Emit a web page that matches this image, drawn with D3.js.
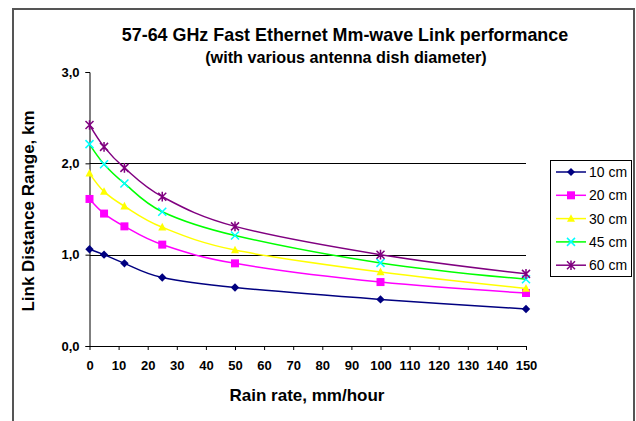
<!DOCTYPE html>
<html><head><meta charset="utf-8">
<script src="https://cdn.jsdelivr.net/npm/d3@7"></script>
<style>
html,body{margin:0;padding:0;background:#fff;}
text{font-family:"Liberation Sans",Arial,sans-serif;}
</style></head>
<body>
<svg id="chart" width="636" height="421"></svg>
<script>
const rainRate = [0, 5, 12, 25, 50, 100, 150];
const seriesNames = ["10 cm", "20 cm", "30 cm", "45 cm", "60 cm"];
const d10 = [1.06, 1.00, 0.905, 0.75, 0.64, 0.51, 0.405];
const d20 = [1.61, 1.45, 1.31, 1.11, 0.905, 0.70, 0.58];
const d30 = [1.89, 1.69, 1.53, 1.30, 1.05, 0.81, 0.63];
const d45 = [2.21, 1.99, 1.78, 1.47, 1.21, 0.91, 0.73];
const d60 = [2.42, 2.18, 1.95, 1.635, 1.31, 1.00, 0.79];
const xTicks = [0,10,20,30,40,50,60,70,80,90,100,110,120,130,140,150];
const yTicks = [0, 1, 2, 3];
const titleLines = ["57-64 GHz Fast Ethernet Mm-wave Link performance", "(with various antenna dish diameter)"];

const seriesValues = [d10, d20, d30, d45, d60];
const lineColors = ["#000080", "#FF00FF", "#FFFF00", "#00FF00", "#800080"];
const markColors = ["#000080", "#FF00FF", "#FFFF00", "#00FFFF", "#800080"];
const markTypes = ["diamond", "square", "triangle", "x", "star"];

const svg = d3.select("#chart");
// outer frame
svg.append("rect").attr("x", 13).attr("y", 9).attr("width", 621).attr("height", 440)
  .attr("fill", "#fff").attr("stroke", "#555").attr("stroke-width", 2);

const x = d3.scaleLinear().domain([0, 150]).range([89.5, 526]);
const y = d3.scaleLinear().domain([0, 3]).range([346, 72]);

// gridlines
svg.append("g").selectAll("line").data([1, 2]).join("line")
  .attr("x1", x(0)).attr("x2", x(150)).attr("y1", d => Math.round(y(d)) + 0.5).attr("y2", d => Math.round(y(d)) + 0.5)
  .attr("stroke", "#000").attr("stroke-width", 1);

// axes
const yAxis = d3.axisLeft(y).tickValues(yTicks).tickSize(4).tickPadding(6)
  .tickFormat(d => d.toFixed(1).replace(".", ","));
const gy = svg.append("g").attr("transform", `translate(${x(0)},0)`).call(yAxis);
gy.select(".domain").attr("stroke", "#000");
gy.selectAll("line").attr("stroke", "#000");
gy.selectAll("text").attr("font-size", 13).attr("font-weight", "bold").attr("fill", "#000")
  .style("font-family", '"Liberation Sans",Arial,sans-serif');

const xAxis = d3.axisBottom(x).tickValues(xTicks).tickSize(4).tickPadding(11).tickSizeOuter(0);
const gx = svg.append("g").attr("transform", `translate(0,${y(0)})`).call(xAxis);
gx.select(".domain").attr("stroke", "#000");
gx.selectAll("line").attr("stroke", "#000");
gx.selectAll("text").attr("font-size", 13).attr("font-weight", "bold").attr("fill", "#000")
  .style("font-family", '"Liberation Sans",Arial,sans-serif');

// title
svg.append("text").attr("x", 345).attr("y", 41).attr("text-anchor", "middle")
  .attr("font-size", 17.9).attr("font-weight", "bold").text(titleLines[0]);
svg.append("text").attr("x", 346).attr("y", 63).attr("text-anchor", "middle")
  .attr("font-size", 16.2).attr("font-weight", "bold").text(titleLines[1]);

// axis titles
svg.append("text").attr("x", 307).attr("y", 401).attr("text-anchor", "middle")
  .attr("font-size", 17).attr("font-weight", "bold").text("Rain rate, mm/hour");
svg.append("text").attr("transform", "translate(34,211) rotate(-90)").attr("text-anchor", "middle")
  .attr("font-size", 17).attr("font-weight", "bold").text("Link Distance Range, km");

function markerPath(type, s) {
  switch (type) {
    case "diamond": return `M0,${-s}L${s},0L0,${s}L${-s},0Z`;
    case "square": return `M${-s},${-s}H${s}V${s}H${-s}Z`;
    case "triangle": return `M0,${-s*1.1}L${s},${s*0.8}L${-s},${s*0.8}Z`;
    case "x": return `M${-s},${-s}L${s},${s}M${-s},${s}L${s},${-s}`;
    case "star": return `M${-s},${-s}L${s},${s}M${-s},${s}L${s},${-s}M0,${-s*1.2}V${s*1.2}`;
  }
}

const line = d3.line().x(d => x(d[0])).y(d => y(d[1])).curve(d3.curveCatmullRom.alpha(0));

seriesValues.forEach((vals, i) => {
  const pts = rainRate.map((r, j) => [r, vals[j]]);
  svg.append("path").datum(pts).attr("d", line).attr("fill", "none")
    .attr("stroke", lineColors[i]).attr("stroke-width", 1.5);
});
seriesValues.forEach((vals, i) => {
  const pts = rainRate.map((r, j) => [r, vals[j]]);
  const filled = ["diamond", "square", "triangle"].includes(markTypes[i]);
  const sz = markTypes[i] === "diamond" ? 4.2 : 4;
  svg.append("g").selectAll("path").data(pts).join("path")
    .attr("transform", d => `translate(${x(d[0])},${y(d[1])})`)
    .attr("d", markerPath(markTypes[i], sz))
    .attr("fill", filled ? markColors[i] : "none")
    .attr("stroke", markColors[i]).attr("stroke-width", filled ? 0 : 1.5);
});

// legend
const lg = svg.append("g");
lg.append("rect").attr("x", 550.5).attr("y", 160.5).attr("width", 81).attr("height", 116)
  .attr("fill", "#fff").attr("stroke", "#000").attr("stroke-width", 1);
seriesNames.forEach((name, i) => {
  const cy = 172 + i * 23.3;
  lg.append("line").attr("x1", 556).attr("x2", 586).attr("y1", cy).attr("y2", cy)
    .attr("stroke", lineColors[i]).attr("stroke-width", 1.5);
  const filled = ["diamond", "square", "triangle"].includes(markTypes[i]);
  lg.append("path").attr("transform", `translate(571,${cy})`)
    .attr("d", markerPath(markTypes[i], 4))
    .attr("fill", filled ? markColors[i] : "none")
    .attr("stroke", markColors[i]).attr("stroke-width", filled ? 0 : 1.5);
  lg.append("text").attr("x", 589).attr("y", cy + 5).attr("font-size", 14).text(name);
});
</script>
</body></html>
